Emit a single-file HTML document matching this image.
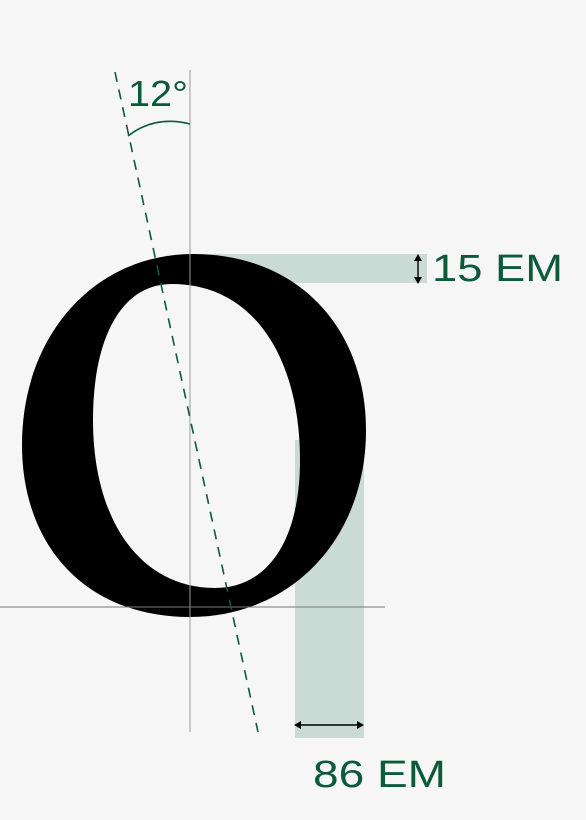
<!DOCTYPE html>
<html><head><meta charset="utf-8"><style>
html,body{margin:0;padding:0;background:#f6f6f6;}
svg{display:block;}
text{font-family:"Liberation Sans",sans-serif;fill:#0b5a3a;}
</style></head><body>
<svg width="586" height="820" viewBox="0 0 586 820">
<rect x="0" y="0" width="586" height="820" fill="#f6f6f6"/>
<rect x="210" y="254" width="217" height="29" fill="#c9dbd4"/>
<rect x="295" y="440" width="69" height="298" fill="#c9dbd4"/>
<path fill="#000" fill-rule="evenodd"
 d="M193,254 C300,254 366,330 366,430 C366,540 290,617 190,617 C85,617 22,545 22,445 C22,335 95,254 193,254 Z
    M172,284 C120,284 93,340 93,420 C93,520 140,588 215,588 C268,588 300,540 300,460 C300,360 255,284 172,284 Z"/>
<line x1="190" y1="70" x2="190" y2="732" stroke="#999" stroke-width="1"/>
<line x1="0" y1="607" x2="385" y2="607" stroke="#777" stroke-width="1"/>
<line x1="115" y1="72" x2="258" y2="732" stroke="#0b5a3a" stroke-width="1.6" stroke-dasharray="10,8"/>
<path d="M128,136 Q155,115 190,124" fill="none" stroke="#0b5a3a" stroke-width="1.6"/>
<text x="128" y="106" font-size="36" textLength="60" lengthAdjust="spacingAndGlyphs">12°</text>
<g stroke="#000" stroke-width="1.4" fill="#000">
<line x1="418" y1="258" x2="418" y2="280"/>
<path d="M418,254 l-4,7 h8 z M418,284 l-4,-7 h8 z" stroke="none"/>
</g>
<text x="432" y="281" font-size="38" textLength="131" lengthAdjust="spacingAndGlyphs">15 EM</text>
<g stroke="#000" stroke-width="1.4" fill="#000">
<line x1="298" y1="725" x2="360" y2="725"/>
<path d="M294,725 l7,-4 v8 z M364,725 l-7,-4 v8 z" stroke="none"/>
</g>
<text x="313" y="787" font-size="38" textLength="133" lengthAdjust="spacingAndGlyphs">86 EM</text>
</svg>
</body></html>
